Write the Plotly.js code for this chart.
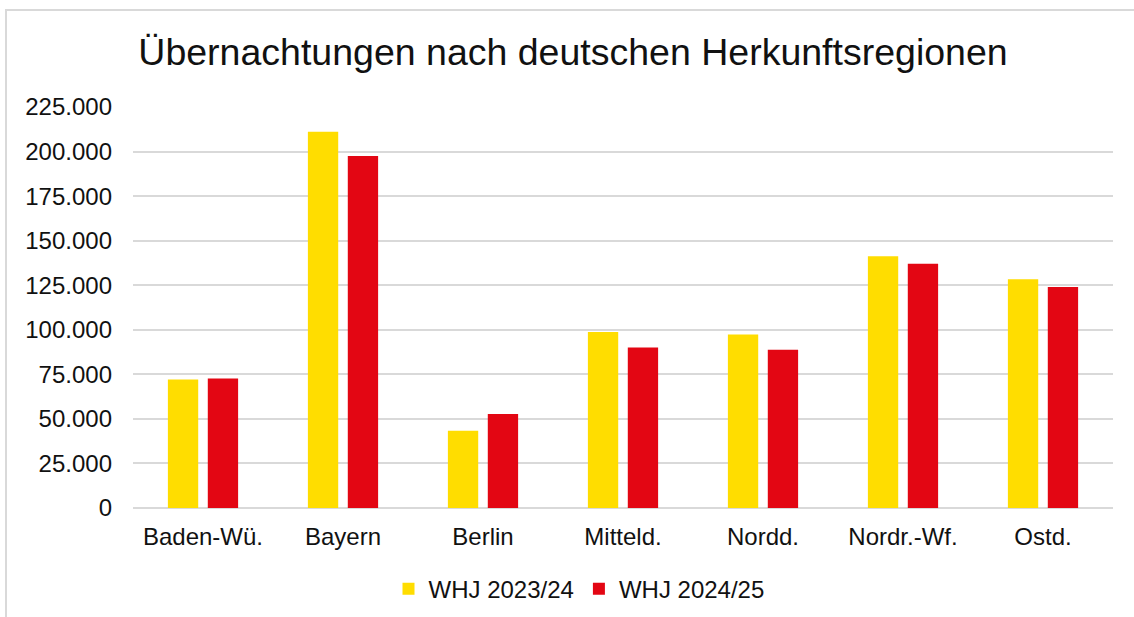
<!DOCTYPE html>
<html>
<head>
<meta charset="utf-8">
<script src="https://cdn.plot.ly/plotly-3.0.1.min.js"></script>
<style>
html, body { margin: 0; padding: 0; background: #ffffff; overflow: hidden; }
#chart { position: absolute; left: 5px; top: 9px; width: 1127px; height: 606px;
  border-top: 2px solid #d9d9d9; border-left: 2px solid #d9d9d9; }
</style>
</head>
<body>
<div id="chart"></div>
<script>
const categories = ["Baden-Wü.", "Bayern", "Berlin", "Mitteld.", "Nordd.", "Nordr.-Wf.", "Ostd."];
const whj2023 = [72100, 211100, 43300, 98700, 97400, 141300, 128400];
const whj2024 = [72700, 197500, 52700, 90100, 88800, 137000, 124000];
const seriesNames = ["WHJ 2023/24", "WHJ 2024/25"];
const yTicks = [0, 25000, 50000, 75000, 100000, 125000, 150000, 175000, 200000, 225000];

const font = "Liberation Sans, Arial, sans-serif";
const data = [
  { type: "bar", name: seriesNames[0], x: categories, y: whj2023,
    marker: { color: "#FFDD00" }, hoverinfo: "y" },
  { type: "bar", name: seriesNames[1], x: categories, y: whj2024,
    marker: { color: "#E30613" }, hoverinfo: "y" }
];
const layout = {
  width: 1127, height: 606,
  margin: { l: 126, r: 21, t: 96, b: 109 },
  paper_bgcolor: "#ffffff", plot_bgcolor: "#ffffff",
  separators: ",.",
  font: { family: font, size: 24, color: "#111111" },
  title: { text: "Übernachtungen nach deutschen Herkunftsregionen",
    font: { family: font, size: 37.5, color: "#111111" },
    x: (573 - 7) / 1127, xref: "container", xanchor: "center",
    y: 0.932, yref: "container", yanchor: "middle" },
  barmode: "group", bargap: 0.43, bargroupgap: 0.24,
  xaxis: { type: "category", showgrid: false, zeroline: false, showline: false,
    ticks: "", ticklabelstandoff: 12, tickfont: { size: 24, color: "#111111" } },
  yaxis: { range: [0, 225000], tickvals: yTicks, tickformat: ",d",
    showgrid: true, gridcolor: "#d9d9d9", gridwidth: 2,
    zeroline: true, zerolinecolor: "#d9d9d9", zerolinewidth: 2,
    showline: false, ticks: "", ticklabelstandoff: 20,
    tickfont: { size: 24, color: "#111111" } },
  showlegend: true,
  legend: { orientation: "h", xref: "container", x: (579 - 7) / 1127, xanchor: "center",
    yref: "container", y: 0.046, yanchor: "middle", itemwidth: 30,
    font: { size: 24, color: "#111111" }, itemclick: false, traceorder: "normal" }
};
Plotly.newPlot("chart", data, layout, { displayModeBar: false, staticPlot: true });
</script>
</body>
</html>
